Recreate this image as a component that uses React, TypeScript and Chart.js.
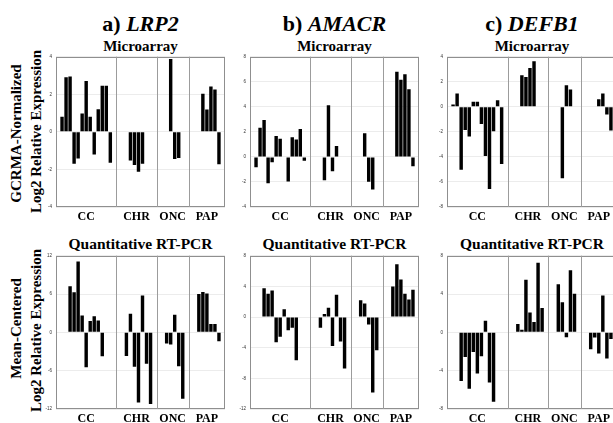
import React, { useEffect, useRef } from "react";
import { Chart, registerables } from "chart.js";

Chart.register(...registerables);

// ---------- categories ----------
const GROUPS = ["CC", "CHR", "ONC", "PAP"];
// number of sample slots per tumour group on the x axis
const GROUP_SLOTS = [15, 10, 8, 9];

// ---------- a) LRP2 ----------
const LRP2_MA_CC = [null, 0.8, 2.9, 2.95, -1.7, -1.42, 0.98, 2.7, 0.8, -1.2, 1.2, 2.45, 2.45, -1.65, null];
const LRP2_MA_CHR = [null, null, null, -1.53, -1.77, -2.12, -1.7, null, null, null];
const LRP2_MA_ONC = [null, null, null, 3.88, -1.44, -1.39, null, null];
const LRP2_MA_PAP = [null, null, null, 2.03, 1.19, 2.42, 2.26, -1.72, null];

const LRP2_PCR_CC = [null, null, null, 7.2, 6.28, 11.1, 2.65, -5.45, 1.76, 2.54, 1.87, -3.74, null, null, null];
const LRP2_PCR_CHR = [null, null, -3.7, 2.9, -5.4, -11.0, 5.76, -4.9, -11.2, null];
const LRP2_PCR_ONC = [null, null, -1.76, -1.9, 2.75, -5.3, -10.4, null];
const LRP2_PCR_PAP = [null, null, 6.0, 6.3, 6.1, 1.3, 1.3, -1.4, null];

// ---------- b) AMACR ----------
const AMACR_MA_CC = [null, -0.82, 2.32, 2.95, -2.1, -0.43, 1.67, 1.45, -0.05, -1.96, 1.56, 1.38, 2.22, -0.3, null];
const AMACR_MA_CHR = [null, null, null, -1.86, 4.13, -1.14, 0.87, null, null, null];
const AMACR_MA_ONC = [null, null, null, 1.88, -1.99, -2.6, null, null];
const AMACR_MA_PAP = [null, null, null, 6.8, 6.15, 6.6, 5.4, -0.75, null];

const AMACR_PCR_CC = [null, null, null, 3.76, 3.03, 3.46, -3.3, -2.56, 1.03, -1.74, -1.39, -5.64, null, null, null];
const AMACR_PCR_CHR = [null, null, -1.39, 0.38, 1.2, -3.78, 2.9, -3.2, -6.7, null];
const AMACR_PCR_ONC = [null, null, 2.2, 1.77, -0.96, -9.84, -4.34, null];
const AMACR_PCR_PAP = [null, null, 3.97, 6.9, 4.9, 3.05, 2.3, 3.55, null];

// ---------- c) DEFB1 ----------
const DEFB1_MA_CC = [null, 0.19, 1.06, -5.03, -1.85, -2.38, 0.4, 0.4, -1.38, -3.92, -6.57, -1.96, 0.53, -4.56, null];
const DEFB1_MA_CHR = [null, null, null, 2.52, 2.38, 3.1, 3.63, null, null, null];
const DEFB1_MA_ONC = [null, null, null, -5.7, 1.72, 1.38, null, null];
const DEFB1_MA_PAP = [null, null, null, null, 0.61, 1.06, -0.61, -1.9, null];

const DEFB1_PCR_CC = [null, null, null, -5.09, -2.56, -5.89, -2.04, -4.29, -2.49, 1.21, -5.23, -7.24, null, null, null];
const DEFB1_PCR_CHR = [null, null, 0.87, 0.28, 5.5, 2.08, 1.07, 7.27, 2.53, null];
const DEFB1_PCR_ONC = [null, null, 5.02, 3.15, -0.52, 6.48, 4.02, null];
const DEFB1_PCR_PAP = [null, null, -1.77, -0.55, -2.2, 3.84, -2.74, -0.7, null];

// ---------- axis ranges ----------
const Y_LRP2_MA = [-4, 4, 2];
const Y_LRP2_PCR = [-12, 12, 6];
const Y_AMACR_MA = [-4, 8, 2];
const Y_AMACR_PCR = [-12, 8, 4];
const Y_DEFB1_MA = [-8, 4, 2];
const Y_DEFB1_PCR = [-8, 8, 4];

// ---------- texts ----------
const TITLES = [
  ["a) ", "LRP2"],
  ["b) ", "AMACR"],
  ["c) ", "DEFB1"],
];
const ROW_TITLES = ["Microarray", "Quantitative RT-PCR"];
const Y_TITLES = [
  ["GCRMA-Normalized", "Log2 Relative Expression"],
  ["Mean-Centered", "Log2 Relative Expression"],
];

// ---------- layout (plot area pixel boxes) ----------
const COLS = [
  { L: 56, R: 225 },
  { L: 250, R: 419 },
  { L: 447, R: 617 },
];
const ROWS = [
  { T: 56, B: 207 },
  { T: 255, B: 409 },
];
const AXIS_W = 16;
const PAD_T = 6;
const PAD_R = 4;
const PAD_B = 20;
const SERIF = '"Liberation Serif", "Times New Roman", serif';

type PanelDef = {
  col: number;
  row: number;
  groups: (number | null)[][];
  y: number[];
};

const PANELS: PanelDef[] = [
  { col: 0, row: 0, groups: [LRP2_MA_CC, LRP2_MA_CHR, LRP2_MA_ONC, LRP2_MA_PAP], y: Y_LRP2_MA },
  { col: 1, row: 0, groups: [AMACR_MA_CC, AMACR_MA_CHR, AMACR_MA_ONC, AMACR_MA_PAP], y: Y_AMACR_MA },
  { col: 2, row: 0, groups: [DEFB1_MA_CC, DEFB1_MA_CHR, DEFB1_MA_ONC, DEFB1_MA_PAP], y: Y_DEFB1_MA },
  { col: 0, row: 1, groups: [LRP2_PCR_CC, LRP2_PCR_CHR, LRP2_PCR_ONC, LRP2_PCR_PAP], y: Y_LRP2_PCR },
  { col: 1, row: 1, groups: [AMACR_PCR_CC, AMACR_PCR_CHR, AMACR_PCR_ONC, AMACR_PCR_PAP], y: Y_AMACR_PCR },
  { col: 2, row: 1, groups: [DEFB1_PCR_CC, DEFB1_PCR_CHR, DEFB1_PCR_ONC, DEFB1_PCR_PAP], y: Y_DEFB1_PCR },
];

const panelPlugin = {
  id: "panelFrame",
  afterDraw(chart: any) {
    const { ctx, chartArea: a } = chart;
    const x = chart.scales.x;
    ctx.save();
    ctx.strokeStyle = "#8f8f8f";
    ctx.lineWidth = 1;
    ctx.strokeRect(
      Math.round(a.left) + 0.5,
      Math.round(a.top) + 0.5,
      Math.round(a.right - a.left) - 1,
      Math.round(a.bottom - a.top) - 1
    );
    ctx.strokeStyle = "#9c9c9c";
    let acc = 0;
    const starts: number[] = [];
    for (let g = 0; g < GROUP_SLOTS.length; g++) {
      starts.push(acc);
      acc += GROUP_SLOTS[g];
      if (g < GROUP_SLOTS.length - 1) {
        const px = Math.round((x.getPixelForValue(acc - 1) + x.getPixelForValue(acc)) / 2) + 0.5;
        ctx.beginPath();
        ctx.moveTo(px, a.top);
        ctx.lineTo(px, a.bottom);
        ctx.stroke();
      }
    }
    ctx.fillStyle = "#000";
    ctx.font = `bold 12px ${SERIF}`;
    ctx.textAlign = "center";
    ctx.textBaseline = "middle";
    for (let g = 0; g < GROUPS.length; g++) {
      const first = x.getPixelForValue(starts[g]);
      const last = x.getPixelForValue(starts[g] + GROUP_SLOTS[g] - 1);
      ctx.fillText(GROUPS[g], (first + last) / 2, a.bottom + 10);
    }
    ctx.restore();
  },
};

function Panel({ p }: { p: PanelDef }) {
  const ref = useRef<HTMLCanvasElement>(null);
  const c = COLS[p.col];
  const r = ROWS[p.row];
  const w = c.R - c.L + AXIS_W + PAD_R;
  const h = r.B - r.T + PAD_T + PAD_B;
  useEffect(() => {
    const values = p.groups.flat();
    const labels: string[] = [];
    p.groups.forEach((g, gi) => g.forEach((_, i) => labels.push(`${GROUPS[gi]}${i + 1}`)));
    const chart = new Chart(ref.current as HTMLCanvasElement, {
      type: "bar",
      data: {
        labels,
        datasets: [
          {
            data: values as any,
            backgroundColor: "#000",
            borderWidth: 0,
            barPercentage: 0.85,
            categoryPercentage: 1,
          },
        ],
      },
      options: {
        animation: false,
        responsive: false,
        devicePixelRatio: 1,
        layout: { padding: { left: 0, top: PAD_T, right: PAD_R, bottom: PAD_B } },
        plugins: { legend: { display: false }, tooltip: { enabled: false }, title: { display: false } },
        scales: {
          x: { display: false, offset: true },
          y: {
            min: p.y[0],
            max: p.y[1],
            ticks: {
              stepSize: p.y[2],
              font: { size: 4.5, family: "Liberation Sans" },
              color: "#333",
              padding: 4,
            },
            grid: { color: "#ececec", drawTicks: false },
            border: { display: false },
            afterFit: (s: any) => {
              s.width = AXIS_W;
            },
          } as any,
        },
      },
      plugins: [panelPlugin],
    });
    return () => chart.destroy();
  }, []);
  return (
    <canvas
      ref={ref}
      width={w}
      height={h}
      style={{ position: "absolute", left: c.L - AXIS_W, top: r.T - PAD_T, width: w, height: h }}
    />
  );
}

function Text({
  cx,
  cy,
  size,
  children,
  rotate,
}: {
  cx: number;
  cy: number;
  size: number;
  children: any;
  rotate?: boolean;
}) {
  const W = 260;
  return (
    <div
      style={{
        position: "absolute",
        left: cx - W / 2,
        top: cy - size / 2,
        width: W,
        height: size,
        lineHeight: `${size}px`,
        fontSize: size,
        fontFamily: SERIF,
        fontWeight: "bold",
        textAlign: "center",
        whiteSpace: "nowrap",
        color: "#000",
        transform: rotate ? "rotate(-90deg)" : undefined,
        transformOrigin: "center center",
      }}
    >
      {children}
    </div>
  );
}

export default function App() {
  return (
    <div
      style={{
        position: "absolute",
        left: 0,
        top: 0,
        width: 613,
        height: 423,
        overflow: "hidden",
        background: "#fff",
      }}
    >
      {TITLES.map((t, i) => (
        <Text key={`t${i}`} cx={(COLS[i].L + COLS[i].R) / 2} cy={24} size={22}>
          {t[0]}
          <i>{t[1]}</i>
        </Text>
      ))}
      {COLS.map((c, i) => (
        <Text key={`m${i}`} cx={(c.L + c.R) / 2} cy={46} size={15}>
          {ROW_TITLES[0]}
        </Text>
      ))}
      {COLS.map((c, i) => (
        <Text key={`q${i}`} cx={(c.L + c.R) / 2} cy={244} size={15.5}>
          {ROW_TITLES[1]}
        </Text>
      ))}
      <Text cx={16} cy={133} size={15} rotate>
        {Y_TITLES[0][0]}
      </Text>
      <Text cx={36} cy={131} size={15} rotate>
        {Y_TITLES[0][1]}
      </Text>
      <Text cx={16} cy={328} size={15} rotate>
        {Y_TITLES[1][0]}
      </Text>
      <Text cx={36} cy={330} size={15} rotate>
        {Y_TITLES[1][1]}
      </Text>
      {PANELS.map((p, i) => (
        <Panel key={i} p={p} />
      ))}
    </div>
  );
}
